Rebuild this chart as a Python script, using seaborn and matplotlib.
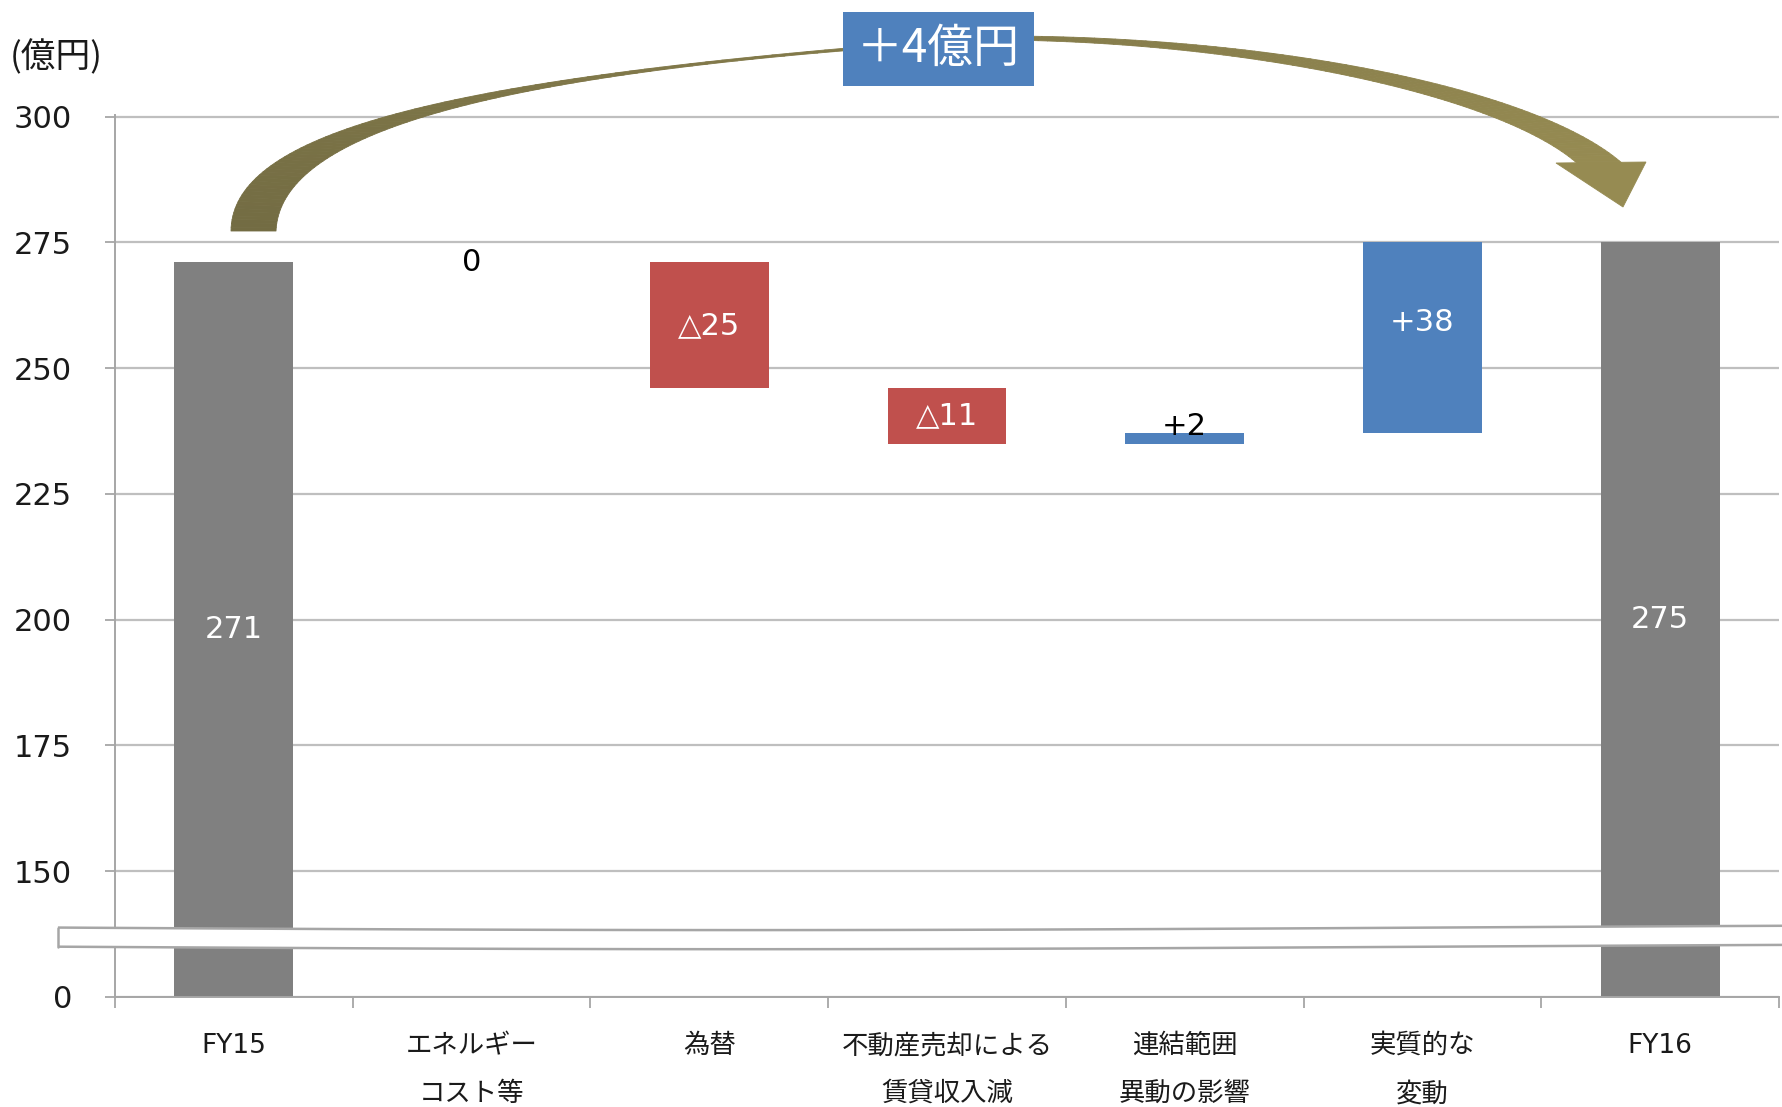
import numpy as np
import pandas as pd
import seaborn as sns
import matplotlib.pyplot as plt
from matplotlib.patches import Polygon, Rectangle
from matplotlib.collections import PolyCollection
from matplotlib.colors import to_rgb

# Data
categories = ["FY15", "エネルギー\nコスト等", "為替", "不動産売却による\n賃貸収入減",
              "連結範囲\n異動の影響", "実質的な\n変動", "FY16"]
start_value = 271
changes = [0, -25, -11, 2, 38]
end_value = 275
step_labels = ["0", "△25", "△11", "+2", "+38"]
ytick_values = [0, 150, 175, 200, 225, 250, 275, 300]
total_change_label = "＋4億円"
unit_label = "(億円)"

# broken axis: 0 is drawn where 125 would sit
AXIS_FLOOR = 125

grey = "#808080"
red = "#C0504D"
blue = "#4F81BD"

sns.set_theme(style="white")
plt.rcParams["font.family"] = ["DejaVu Sans", "Noto Sans CJK JP"]
jp_font = ["Noto Sans CJK JP", "DejaVu Sans"]

# Waterfall pieces
bottoms = [AXIS_FLOOR]
heights = [start_value - AXIS_FLOOR]
colors = [grey]
running = start_value
tops = []
for ch in changes:
    new = running + ch
    bottoms.append(min(running, new))
    heights.append(abs(ch))
    colors.append(red if ch < 0 else blue)
    tops.append((running, new))
    running = new
bottoms.append(AXIS_FLOOR)
heights.append(end_value - AXIS_FLOOR)
colors.append(grey)

df = pd.DataFrame({"category": categories, "height": heights})

W, H = 1782, 1107
fig = plt.figure(figsize=(W / 100, H / 100), dpi=100)
ax = fig.add_axes([115 / W, (H - 997) / H, (1779 - 115) / W, (997 - 115) / H])

sns.barplot(data=df, x="category", y="height", bottom=bottoms, width=0.5,
            color=grey, saturation=1, errorbar=None, ax=ax, zorder=2)
for patch, c in zip(ax.patches, colors):
    patch.set_facecolor(c)
    patch.set_edgecolor("none")

ax.set_ylim(AXIS_FLOOR, 300.3)
ax.set_xlim(-0.5, len(categories) - 0.5)
ytick_pos = [AXIS_FLOOR if v == 0 else v for v in ytick_values]
ax.set_yticks(ytick_pos)
ax.set_yticklabels([str(v) for v in ytick_values], fontsize=22, color="#1a1a1a")
ax.set_xticks(range(len(categories)))
ax.set_xticklabels(categories, fontsize=19, color="#1a1a1a", linespacing=2.1, va="top")
ax.set_xticks(np.arange(-0.5, len(categories)), minor=True)
ax.set_xlabel("")
ax.set_ylabel("")

ax.tick_params(axis="y", length=7, width=1.3, color="#A6A6A6", pad=24, left=True)
ax.tick_params(axis="x", which="major", length=0, pad=26)
ax.tick_params(axis="x", which="minor", length=8, width=1.3, color="#A6A6A6", bottom=True)

ax.set_axisbelow(True)
ax.yaxis.grid(True, color="#BFBFBF", lw=1.6)
ax.xaxis.grid(False)
for s in ["top", "right"]:
    ax.spines[s].set_visible(False)
for s in ["left", "bottom"]:
    ax.spines[s].set_color("#A6A6A6")
    ax.spines[s].set_linewidth(1.4)

# Data labels
ax.text(0, (AXIS_FLOOR + start_value) / 2, str(start_value), color="white",
        fontsize=22, ha="center", va="center", zorder=3)
for i, (ch, lab, (a, b)) in enumerate(zip(changes, step_labels, tops), start=1):
    if ch == 0:
        ax.text(i, a, lab, color="black", fontsize=22, ha="center", va="center", zorder=3)
    elif abs(ch) < 5:
        ax.text(i, max(a, b) - 0.3, lab, color="black", fontsize=22, ha="center",
                va="baseline", zorder=3)
    else:
        ax.text(i, (a + b) / 2 + (3 if ch > 0 else 0), lab, color="white", fontsize=22,
                ha="center", va="center", zorder=3)
ax.text(len(categories) - 1, (AXIS_FLOOR + end_value) / 2, str(end_value), color="white",
        fontsize=22, ha="center", va="center", zorder=3)

# Axis break band
bx = np.linspace(-0.74, 6.8, 60)
top_edge = 138.8 - 0.5 * np.sin(np.pi * (bx + 0.74) / 7.54 * 1.3)
band = np.vstack([np.column_stack([bx, top_edge]),
                  np.column_stack([bx[::-1], top_edge[::-1] - 3.8])])
ax.add_patch(Polygon(band, closed=False, facecolor="white", edgecolor="#A6A6A6",
                     lw=1.8, zorder=6, clip_on=False))
ax.plot([bx[0], bx[0]], [top_edge[0], top_edge[0] - 3.8], color="#A6A6A6", lw=1.8,
        zorder=7, clip_on=False)


# Curved arrow (pixel coordinates of the figure, y downwards)
def bez(p0, p1, p2, p3, n=80):
    t = np.linspace(0, 1, n)[:, None]
    p0, p1, p2, p3 = map(np.asarray, (p0, p1, p2, p3))
    return (1 - t) ** 3 * p0 + 3 * (1 - t) ** 2 * t * p1 + 3 * (1 - t) * t ** 2 * p2 + t ** 3 * p3


def to_fig(pts):
    pts = np.asarray(pts, dtype=float)
    return np.column_stack([pts[:, 0] / W, 1 - pts[:, 1] / H])


outer = np.vstack([bez((231, 231), (232, 130), (450, 75), (1000, 36)),
                   bez((1000, 36), (1280, 36), (1540, 90), (1623, 164))[1:]])
inner = np.vstack([bez((276, 231), (280, 135), (480, 70), (1000, 40)),
                   bez((1000, 40), (1250, 42), (1500, 95), (1578, 164))[1:]])
outer_f, inner_f = to_fig(outer), to_fig(inner)
c0, c1 = np.array(to_rgb("#736C43")), np.array(to_rgb("#968B52"))
quads, qcols = [], []
for k in range(len(outer_f) - 1):
    quads.append([outer_f[k], outer_f[k + 1], inner_f[k + 1], inner_f[k]])
    f = k / (len(outer_f) - 2)
    qcols.append(c0 * (1 - f) + c1 * f)
arrow = PolyCollection(quads, facecolors=qcols, edgecolors=qcols, linewidths=0.6,
                       transform=fig.transFigure, zorder=3)
fig.add_artist(arrow)
head = Polygon(to_fig([(1556, 163), (1646, 162), (1623, 207)]), closed=True,
               facecolor=c1, edgecolor=c1, lw=0.6, transform=fig.transFigure, zorder=3)
fig.add_artist(head)

# Total change box
fig.add_artist(Rectangle((843 / W, 1 - 86 / H), 191 / W, 74 / H, facecolor=blue,
                         edgecolor="none", transform=fig.transFigure, zorder=4))
fig.text(938 / W, 1 - 49 / H, total_change_label, color="white", fontsize=33,
         ha="center", va="center", zorder=5, family=jp_font)

fig.text(10 / W, 1 - 58 / H, unit_label, color="#1a1a1a", fontsize=25,
         ha="left", va="center", family=jp_font)

fig.savefig("out.png", dpi=100)
